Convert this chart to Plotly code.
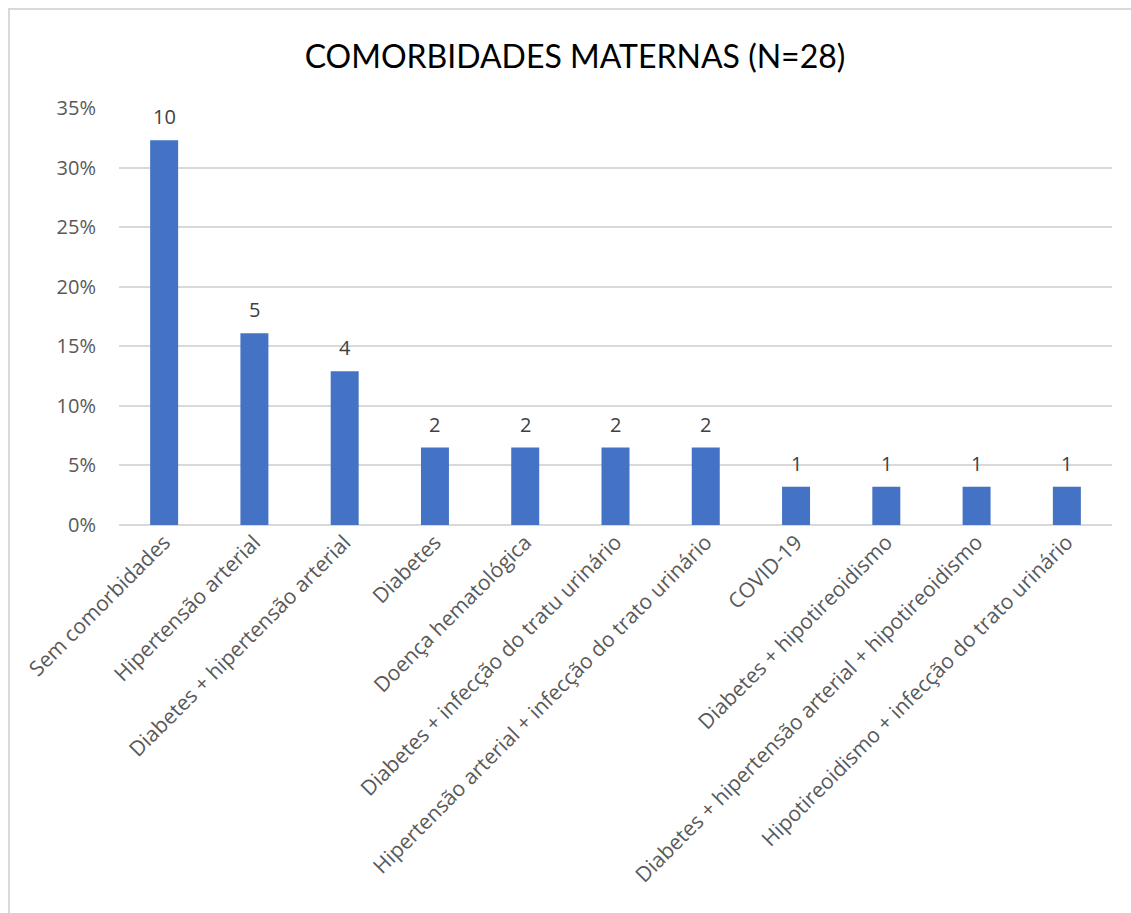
import plotly.graph_objects as go

categories = [
    "Sem comorbidades",
    "Hipertensão arterial",
    "Diabetes + hipertensão arterial",
    "Diabetes",
    "Doença hematológica",
    "Diabetes + infecção do tratu urinário",
    "Hipertensão arterial + infecção do trato urinário",
    "COVID-19",
    "Diabetes + hipotireoidismo",
    "Diabetes + hipertensão arterial + hipotireoidismo",
    "Hipotireoidismo + infecção do trato urinário",
]
counts = [10, 5, 4, 2, 2, 2, 2, 1, 1, 1, 1]
percentages = [0.323, 0.161, 0.129, 0.065, 0.065, 0.065, 0.065, 0.032, 0.032, 0.032, 0.032]
y_ticks = [0, 0.05, 0.10, 0.15, 0.20, 0.25, 0.30, 0.35]

FONT = "'Open Sans', sans-serif"
TITLE_FONT = "Lato, sans-serif"

fig = go.Figure()
fig.add_trace(go.Bar(
    x=categories, y=percentages,
    marker=dict(color="#4472C4", line=dict(width=0)),
    width=0.31,
    hoverinfo="skip",
))

for c, p, n in zip(categories, percentages, counts):
    fig.add_annotation(x=c, y=p, text=str(n), showarrow=False,
                       yanchor="bottom", yshift=8,
                       font=dict(family=FONT, size=20, color="#404040"))

fig.update_layout(
    width=1131, height=913,
    margin=dict(l=119, r=19, t=108, b=388),
    paper_bgcolor="white", plot_bgcolor="white",
    showlegend=False,
    title=dict(text="COMORBIDADES MATERNAS (N=28)", x=575 / 1131, xanchor="center",
               y=1 - 57/913, yanchor="middle", xref="container", yref="container",
               font=dict(family=TITLE_FONT, size=32, color="#000000")),
    font=dict(family=FONT),
)
fig.update_xaxes(tickangle=-45, tickfont=dict(family=FONT, size=21, color="#595959"),
                 showgrid=False, showline=False, ticks="", zeroline=False)
fig.update_yaxes(range=[0, 0.35], tickvals=y_ticks, tickformat=".0%",
                 tickfont=dict(family=FONT, size=20, color="#595959"),
                 gridcolor="#D9D9D9", gridwidth=1.5, showline=False, ticks="",
                 zeroline=True, zerolinecolor="#D9D9D9", zerolinewidth=1.5,
                 ticklabelstandoff=22)

fig.add_shape(type="rect", xref="paper", yref="paper",
              x0=-(119 - 9) / 993, x1=1.2, y0=-1.2, y1=1 + (108 - 9) / 417,
              line=dict(color="#D9D9D9", width=2), fillcolor="rgba(0,0,0,0)",
              layer="below")

fig.write_html("out.html")
